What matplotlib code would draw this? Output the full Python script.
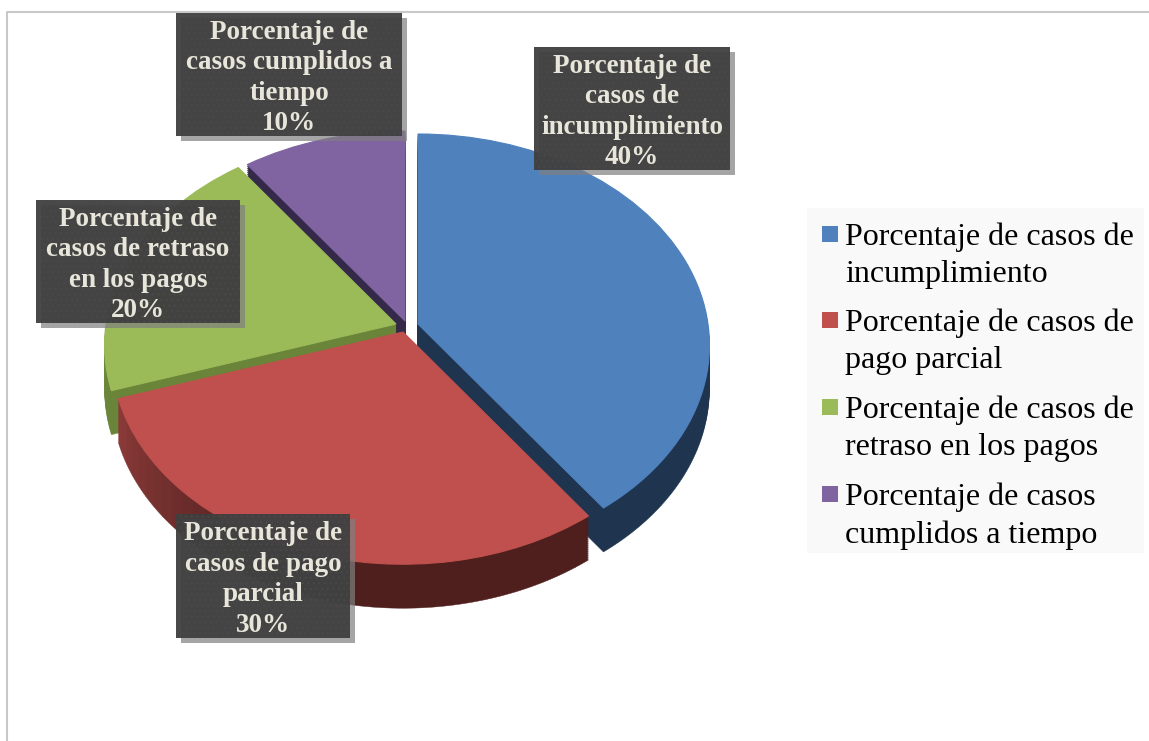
import matplotlib
matplotlib.use("Agg")
import matplotlib.pyplot as plt
import numpy as np
from matplotlib.patches import Rectangle, Wedge
from matplotlib.transforms import Affine2D, Transform

# Data
categories = ["Porcentaje de casos de\nincumplimiento", "Porcentaje de casos de\npago parcial",
              "Porcentaje de casos de\nretraso en los pagos", "Porcentaje de casos\ncumplidos a tiempo"]
values = [40, 30, 20, 10]
box_labels = ["Porcentaje de\ncasos de\nincumplimiento\n40%", "Porcentaje de\ncasos de pago\nparcial\n30%",
              "Porcentaje de\ncasos de retraso\nen los pagos\n20%", "Porcentaje de\ncasos cumplidos a\ntiempo\n10%"]

# Style
top_colors = ["#4f81bd", "#c0504d", "#9bbb59", "#8064a2"]
wall_dark = ["#1f344f", "#4f1f1e", "#5a6e31", "#35294a"]
wall_light = ["#1f344f", "#a04542", "#6f8c3c", "#35294a"]
offsets = [(13, 0), (-2, 8), (-9, 0), (0, -3)]  # slice explosion in px
boxes = [(534, 47, 196, 123), (176, 514, 174, 124), (36, 200, 204, 123), (176, 13, 226, 123)]
legend_y = [256, 342, 429, 516]
draw_order = [3, 2, 0, 1]  # back to front
cx, cy = 405, 324
rad_x, rad_y, tilt = 290, 209, 0.10
depth = 44


# flat pie -> tilted disc, in pixel coordinates
class Perspective(Transform):
    input_dims = 2
    output_dims = 2
    is_affine = False

    def transform_non_affine(self, values):
        values = np.asarray(values, dtype=float)
        w = 1 + tilt * values[:, 1]
        return np.column_stack([cx + rad_x * values[:, 0] / w, cy - rad_y * values[:, 1] / w])


fig = plt.figure(figsize=(11.49, 7.41), dpi=100)
ax = fig.add_axes([0, 0, 1, 1])
persp = Perspective()

wedges, _ = ax.pie(values, startangle=90, counterclock=False, radius=1)
ax.set_aspect("auto")
ax.set_xlim(0, 1149)
ax.set_ylim(741, 0)
ax.axis("off")

# Slices with their side walls
zorder = 2
for i in draw_order:
    w = wedges[i]
    ox, oy = offsets[i]
    theta = np.linspace(w.theta1, w.theta2, 37)
    for d in np.arange(depth, 0, -2):
        for t1, t2 in zip(theta[:-1], theta[1:]):
            # lighter towards the left end of the disc
            mid = (t1 + t2) / 2 % 360
            mix = np.clip(1 - abs(mid - 180) / 70, 0, 1) if 90 < mid < 270 else 0
            col = np.array(matplotlib.colors.to_rgb(wall_dark[i])) * (1 - mix) \
                + np.array(matplotlib.colors.to_rgb(wall_light[i])) * mix
            wall = Wedge((0, 0), 1, t1, t2, facecolor=col, edgecolor=col, lw=0.3, zorder=zorder)
            ax.add_patch(wall)
            wall.set_transform(persp + Affine2D().translate(ox, oy + d) + ax.transData)
    zorder += 1
    w.set_transform(persp + Affine2D().translate(ox, oy) + ax.transData)
    w.set_facecolor(top_colors[i])
    w.set_edgecolor(top_colors[i])
    w.set_linewidth(0.8)
    w.set_zorder(zorder)
    zorder += 1

# Data label boxes
plt.rcParams["hatch.linewidth"] = 0.6
for (x, y, bw, bh), label in zip(boxes, box_labels):
    ax.add_patch(Rectangle((x + 5, y + 5), bw, bh, facecolor="#7f7f7f", alpha=0.7, lw=0, zorder=20))
    ax.add_patch(Rectangle((x, y), bw, bh, facecolor="#3f3f3f", alpha=0.95, lw=0, zorder=21))
    ax.add_patch(Rectangle((x, y), bw, bh, facecolor="none", edgecolor="#4a4a4a", hatch="...", lw=0, zorder=22))
    ax.text(x + bw / 2, y + bh / 2 + 3.5, label, ha="center", va="center", family="Liberation Serif",
            weight="bold", fontsize=19.5, color="#e8e6da", linespacing=1.29, zorder=23)

# Legend
ax.add_patch(Rectangle((807, 208), 337, 345, facecolor="#f9f9f9", lw=0, zorder=1))
for name, col, y in zip(categories, top_colors, legend_y):
    ax.add_patch(Rectangle((822, y - 30), 16, 16, facecolor=col, lw=0, zorder=2))
    ax.text(845, y, name, ha="left", va="center", family="Liberation Serif", fontsize=23,
            color="black", linespacing=1.385, zorder=2)

# Chart area border
ax.plot([7, 7, 1149], [741, 12, 12], color="#c8c8c8", lw=1.5, zorder=1, clip_on=False)

fig.savefig("out.png", dpi=100)
